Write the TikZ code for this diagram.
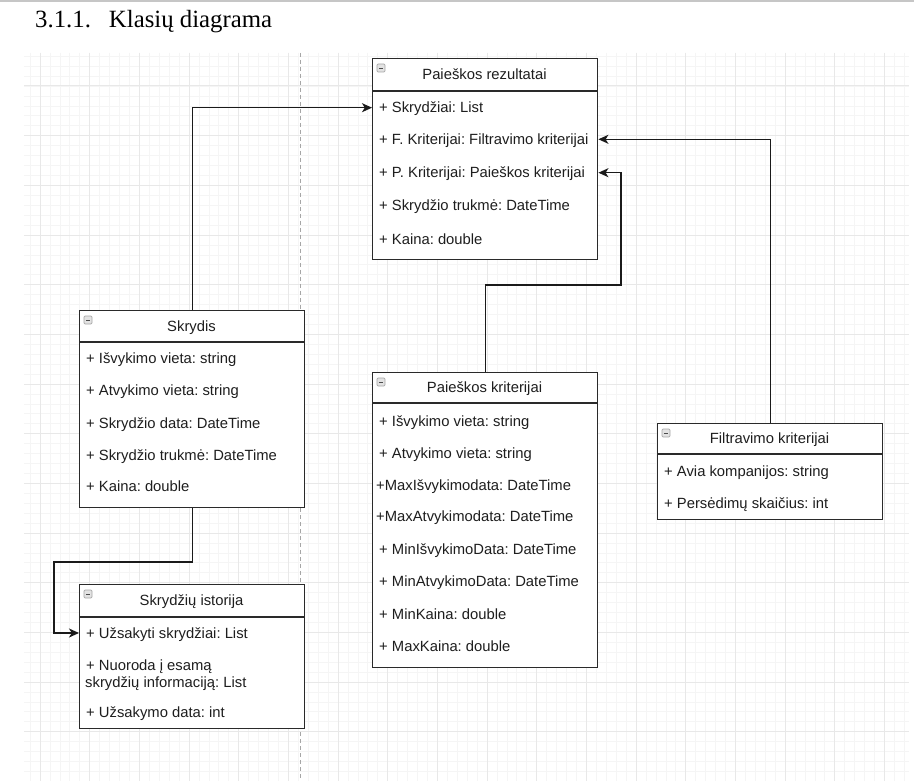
\documentclass[tikz,border=0pt]{standalone}
\usepackage{fontspec}
\setmainfont{Liberation Serif}
\newfontfamily\arialf{Liberation Sans}
\usetikzlibrary{arrows.meta,calc}
\definecolor{txt}{HTML}{1E1E1E}
\definecolor{boxc}{HTML}{2A2A2A}
\definecolor{minorg}{HTML}{F5F5F5}
\definecolor{majorg}{HTML}{E8E8E8}
\definecolor{linec}{HTML}{1A1A1A}
\frenchspacing
\tikzset{
  cls/.style={draw=boxc, line width=1.4pt, fill=white, anchor=north west, inner sep=0pt},
  sepline/.style={draw=boxc, line width=1.4pt},
  ttl/.style={anchor=base, inner sep=0pt, text=txt, font=\arialf\fontsize{14.8}{17}\selectfont},
  attr/.style={anchor=base west, inner sep=0pt, text=txt, font=\arialf\fontsize{14.8}{17}\selectfont},
  conn/.style={draw=linec, line width=1.4pt, -{Stealth[length=10pt,width=9pt,inset=2.8pt]}},
  minorline/.style={draw=minorg, line width=0.7pt},
  majorline/.style={draw=majorg, line width=1pt},
  iconbox/.style={draw=gray!70, fill=gray!22, line width=0.7pt, rounded corners=1.2pt},
}
\newcommand\clsicon[1]{%
  \draw[iconbox] ($(#1.north west)+(5,6)$) rectangle ++(8,8);
  \draw[gray!60!black, line width=0.9pt] ($(#1.north west)+(6.8,10)$) -- ++(4.4,0);
}
\begin{document}
\begin{tikzpicture}[x=1pt,y=-1pt]
\useasboundingbox (0,0) rectangle (914,781);
\fill[white] (0,0) rectangle (914,781);
\fill[gray!45] (0,0) rectangle (914,1.6);
% grid
\foreach \i in {0,...,88} {
  \pgfmathsetmacro\xx{30.07+9.934*\i}
  \draw[minorline] (\xx,53) -- (\xx,781);
}
\foreach \j in {0,...,72} {
  \pgfmathsetmacro\yy{56.2+9.934*\j}
  \draw[minorline] (24,\yy) -- (909,\yy);
}
\foreach \k in {0,...,17} {
  \pgfmathsetmacro\xx{40+49.67*\k}
  \draw[majorline] (\xx,53) -- (\xx,781);
}
\foreach \k in {0,...,13} {
  \pgfmathsetmacro\yy{86+49.67*\k}
  \draw[majorline] (24,\yy) -- (909,\yy);
}
\draw[gray!70, line width=0.8pt, dash pattern=on 4pt off 3pt] (300,53) -- (300,781);

% title
\node[anchor=base west, inner sep=0pt, text=black, font=\fontsize{24.8}{28}\selectfont] (title) at (35,28) {3.1.1.\hspace{18pt}Klasių diagrama};

% Paieškos rezultatai
\node[cls, minimum width=225pt, minimum height=201pt] (pr) at (372,58) {};
\draw[sepline] ($(pr.north west)+(0,33)$) -- ($(pr.north east)+(0,33)$);
\clsicon{pr}
\node[ttl] (prt) at (484.5,79.5) {Paieškos rezultatai};
\node[attr] (pr1) at (379,112.7) {+ Skrydžiai: List};
\node[attr] (pr2) at (379,144.3) {+ F. Kriterijai: Filtravimo kriterijai};
\node[attr] (pr3) at (379,177.7) {+ P. Kriterijai: Paieškos kriterijai};
\node[attr] (pr4) at (379,211) {+ Skrydžio trukmė: DateTime};
\node[attr] (pr5) at (379,244.3) {+ Kaina: double};

% Skrydis
\node[cls, minimum width=225pt, minimum height=197pt] (sk) at (79,310) {};
\draw[sepline] ($(sk.north west)+(0,32)$) -- ($(sk.north east)+(0,32)$);
\clsicon{sk}
\node[ttl] (skt) at (191.5,331) {Skrydis};
\node[attr] (sk1) at (86,363) {+ Išvykimo vieta: string};
\node[attr] (sk2) at (86,395) {+ Atvykimo vieta: string};
\node[attr] (sk3) at (86,428) {+ Skrydžio data: DateTime};
\node[attr] (sk4) at (86,460) {+ Skrydžio trukmė: DateTime};
\node[attr] (sk5) at (86,491.7) {+ Kaina: double};

% Skrydžių istorija
\node[cls, minimum width=225pt, minimum height=144pt] (sh) at (79,584) {};
\draw[sepline] ($(sh.north west)+(0,33)$) -- ($(sh.north east)+(0,33)$);
\clsicon{sh}
\node[ttl] (sht) at (191.5,605.5) {Skrydžių istorija};
\node[attr] (sh1) at (86,638) {+ Užsakyti skrydžiai: List};
\node[attr] (sh2) at (86,670.7) {+ Nuoroda į esamą};
\node[attr] (sh2b) at (85,687.7) {skrydžių informaciją: List};
\node[attr] (sh3) at (86,717.7) {+ Užsakymo data: int};

% Paieškos kriterijai
\node[cls, minimum width=225pt, minimum height=295pt] (pk) at (372,372) {};
\draw[sepline] ($(pk.north west)+(0,31)$) -- ($(pk.north east)+(0,31)$);
\clsicon{pk}
\node[ttl] (pkt) at (484.5,392.5) {Paieškos kriterijai};
\node[attr] (pk1) at (379,426.7) {+ Išvykimo vieta: string};
\node[attr] (pk2) at (379,458.3) {+ Atvykimo vieta: string};
\node[attr] (pk3) at (376,490) {+MaxIšvykimodata: DateTime};
\node[attr] (pk4) at (376,521.7) {+MaxAtvykimodata: DateTime};
\node[attr] (pk5) at (379,554.3) {+ MinIšvykimoData: DateTime};
\node[attr] (pk6) at (379,586.7) {+ MinAtvykimoData: DateTime};
\node[attr] (pk7) at (379,619) {+ MinKaina: double};
\node[attr] (pk8) at (379,651) {+ MaxKaina: double};

% Filtravimo kriterijai
\node[cls, minimum width=225pt, minimum height=96pt] (fk) at (657,423) {};
\draw[sepline] ($(fk.north west)+(0,31)$) -- ($(fk.north east)+(0,31)$);
\clsicon{fk}
\node[ttl] (fkt) at (769.5,443.5) {Filtravimo kriterijai};
\node[attr] (fk1) at (664,476.7) {+ Avia kompanijos: string};
\node[attr] (fk2) at (664,508.3) {+ Persėdimų skaičius: int};

% connectors
\coordinate (b1) at (54,562);
\coordinate (b2) at (621,285);
\draw[conn] (sk.north) |- ($(pr.west |- pr1.base)+(0,-5)$);
\draw[conn] (sk.south) |- (b1) |- ($(sh.west |- sh1.base)+(0,-5)$);
\draw[conn] (pk.north) |- (b2) |- ($(pr.east |- pr3.base)+(0,-5)$);
\draw[conn] (fk.north) |- ($(pr.east |- pr2.base)+(0,-5)$);
\end{tikzpicture}
\end{document}
